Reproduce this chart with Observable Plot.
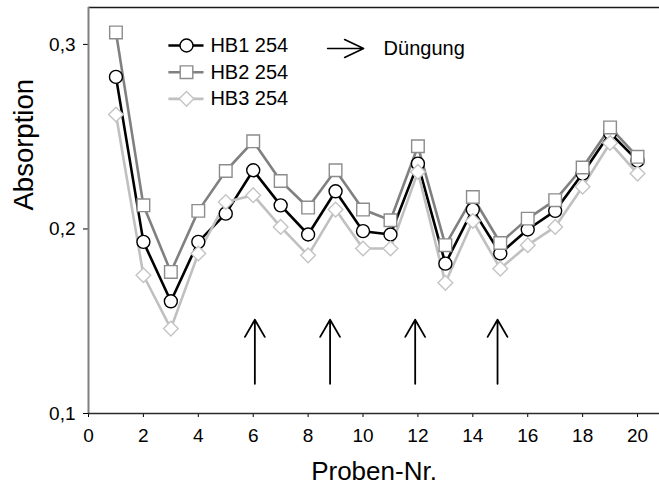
<!DOCTYPE html>
<html>
<head>
<meta charset="utf-8">
<script src="https://cdn.jsdelivr.net/npm/d3@7"></script>
<script src="https://cdn.jsdelivr.net/npm/@observablehq/plot@0.6"></script>
<style>
  html, body { margin: 0; padding: 0; background: #fff; }
  #chart svg { display: block; }
</style>
</head>
<body>
<div id="chart"></div>
<script>
// ---- data ----
const probenNr = [1, 2, 3, 4, 5, 6, 7, 8, 9, 10, 11, 12, 13, 14, 15, 16, 17, 18, 19, 20];
const hb1 = [0.2824, 0.1930, 0.1608, 0.1930, 0.2083, 0.2318, 0.2128, 0.1970, 0.2204, 0.1988,
             0.1970, 0.2354, 0.1812, 0.2105, 0.1867, 0.1997, 0.2098, 0.2300, 0.2520, 0.2370];
const hb2 = [0.3065, 0.2128, 0.1767, 0.2098, 0.2314, 0.2475, 0.2260, 0.2116, 0.2318, 0.2105,
             0.2047, 0.2448, 0.1912, 0.2173, 0.1924, 0.2056, 0.2156, 0.2333, 0.2550, 0.2391];
const hb3 = [0.2620, 0.1749, 0.1460, 0.1867, 0.2146, 0.2183, 0.2011, 0.1857, 0.2105, 0.1894,
             0.1894, 0.2309, 0.1708, 0.2043, 0.1785, 0.1912, 0.2011, 0.2229, 0.2466, 0.2300];
const seriesNames = ["HB1 254", "HB2 254", "HB3 254"];
const duengungProben = [6.06, 8.8, 11.9, 14.9];   // positions of the fertilisation arrows
const duengungLabel = "Düngung";
const xTicks = [0, 2, 4, 6, 8, 10, 12, 14, 16, 18, 20];
const yTicks = [0.1, 0.2, 0.3];
const xLabel = "Proben-Nr.";
const yLabel = "Absorption";

// ---- styles / layout ----
const xDomain = [0, 20.8];
const yDomain = [0.1, 0.32];
const styles = [
  {line: "#000000", mark: "#000000", symbol: "circle", r: 6.5},
  {line: "#808080", mark: "#8c8c8c", symbol: "square", r: 7.1},
  {line: "#c0c0c0", mark: "#c4c4c4", symbol: "diamond2", r: 6.6}
];
const seriesValues = [hb1, hb2, hb3];
const fmt = d => d.toFixed(1).replace(".", ",");

const marks = [];
// frame top line
marks.push(Plot.ruleY([yDomain[1]], {stroke: "#1a1a1a", strokeWidth: 1.5}));
// axes
marks.push(Plot.axisX({ticks: xTicks, tickSize: 4, tickPadding: 11, fontSize: 19, label: null, tickFormat: d => String(d)}));
marks.push(Plot.axisY({ticks: yTicks, tickSize: 5, tickPadding: 8, fontSize: 19, label: null, tickFormat: fmt}));
marks.push(Plot.ruleX([xDomain[0]], {stroke: "#808080", strokeWidth: 2}));
marks.push(Plot.ruleY([yDomain[0]], {stroke: "#2a2a2a", strokeWidth: 1.5}));

// series lines
seriesValues.forEach((vals, s) => {
  const table = probenNr.map((n, i) => ({n, v: vals[i]}));
  marks.push(Plot.line(table, {x: "n", y: "v", stroke: styles[s].line, strokeWidth: 2.6}));
});
// series markers
seriesValues.forEach((vals, s) => {
  const table = probenNr.map((n, i) => ({n, v: vals[i]}));
  marks.push(Plot.dot(table, {x: "n", y: "v", symbol: styles[s].symbol, r: styles[s].r,
    fill: "white", stroke: styles[s].mark, strokeWidth: 1.4}));
});

// fertilisation arrows
const arrowBottom = 0.1161, arrowTop = 0.1508;
marks.push(Plot.arrow(duengungProben, {x: d => d, y1: arrowBottom, y2: arrowTop,
  stroke: "black", strokeWidth: 1.8, headAngle: 60, headLength: 16.5}));

// legend (series)
const legTop = 0.2994, legStep = 0.01445;
const legend = seriesNames.map((name, i) => ({name, i, y: legTop - i * legStep}));
legend.forEach(d => {
  const st = styles[d.i];
  marks.push(Plot.link([d], {x1: 2.91, x2: 4.19, y1: "y", y2: "y", stroke: st.line, strokeWidth: 2.6}));
  marks.push(Plot.dot([d], {x: 3.57, y: "y", symbol: st.symbol, r: st.r, fill: "white", stroke: st.mark, strokeWidth: 1.4}));
});
marks.push(Plot.text(legend, {x: 4.44, y: "y", text: "name", textAnchor: "start", fontSize: 20, fill: "black"}));

// legend (arrow)
const arrowShape = {
  draw(context, l) {
    context.moveTo(0, 0);
    context.lineTo(0, -l);
    context.moveTo(-9, -l + 19);
    context.lineTo(0, -l);
    context.lineTo(9, -l + 19);
  }
};
const legArrowY = 0.2978;
marks.push(Plot.vector([duengungLabel], {x: 8.71, y: legArrowY, length: 36, rotate: 90, anchor: "start",
  shape: arrowShape, stroke: "black", strokeWidth: 1.6}));
marks.push(Plot.text([duengungLabel], {x: 10.75, y: legArrowY, text: d => d, textAnchor: "start", fontSize: 20, fill: "black"}));

// axis titles
marks.push(Plot.text([xLabel], {frameAnchor: "bottom", dy: 66, text: d => d, fontSize: 26, fill: "black", letterSpacing: 0.2}));
marks.push(Plot.text([yLabel], {frameAnchor: "left", dx: -64.8, rotate: -90, text: d => d, fontSize: 27.5, fill: "black"}));

const chart = Plot.plot({
  width: 659,
  height: 492,
  marginLeft: 88,
  marginRight: 0,
  marginTop: 7,
  marginBottom: 79,
  x: {domain: xDomain},
  y: {domain: yDomain},
  style: {fontFamily: "'Liberation Sans', Arial, Helvetica, sans-serif", background: "white", color: "black", overflow: "visible"},
  marks
});
document.getElementById("chart").appendChild(chart);
</script>
</body>
</html>
